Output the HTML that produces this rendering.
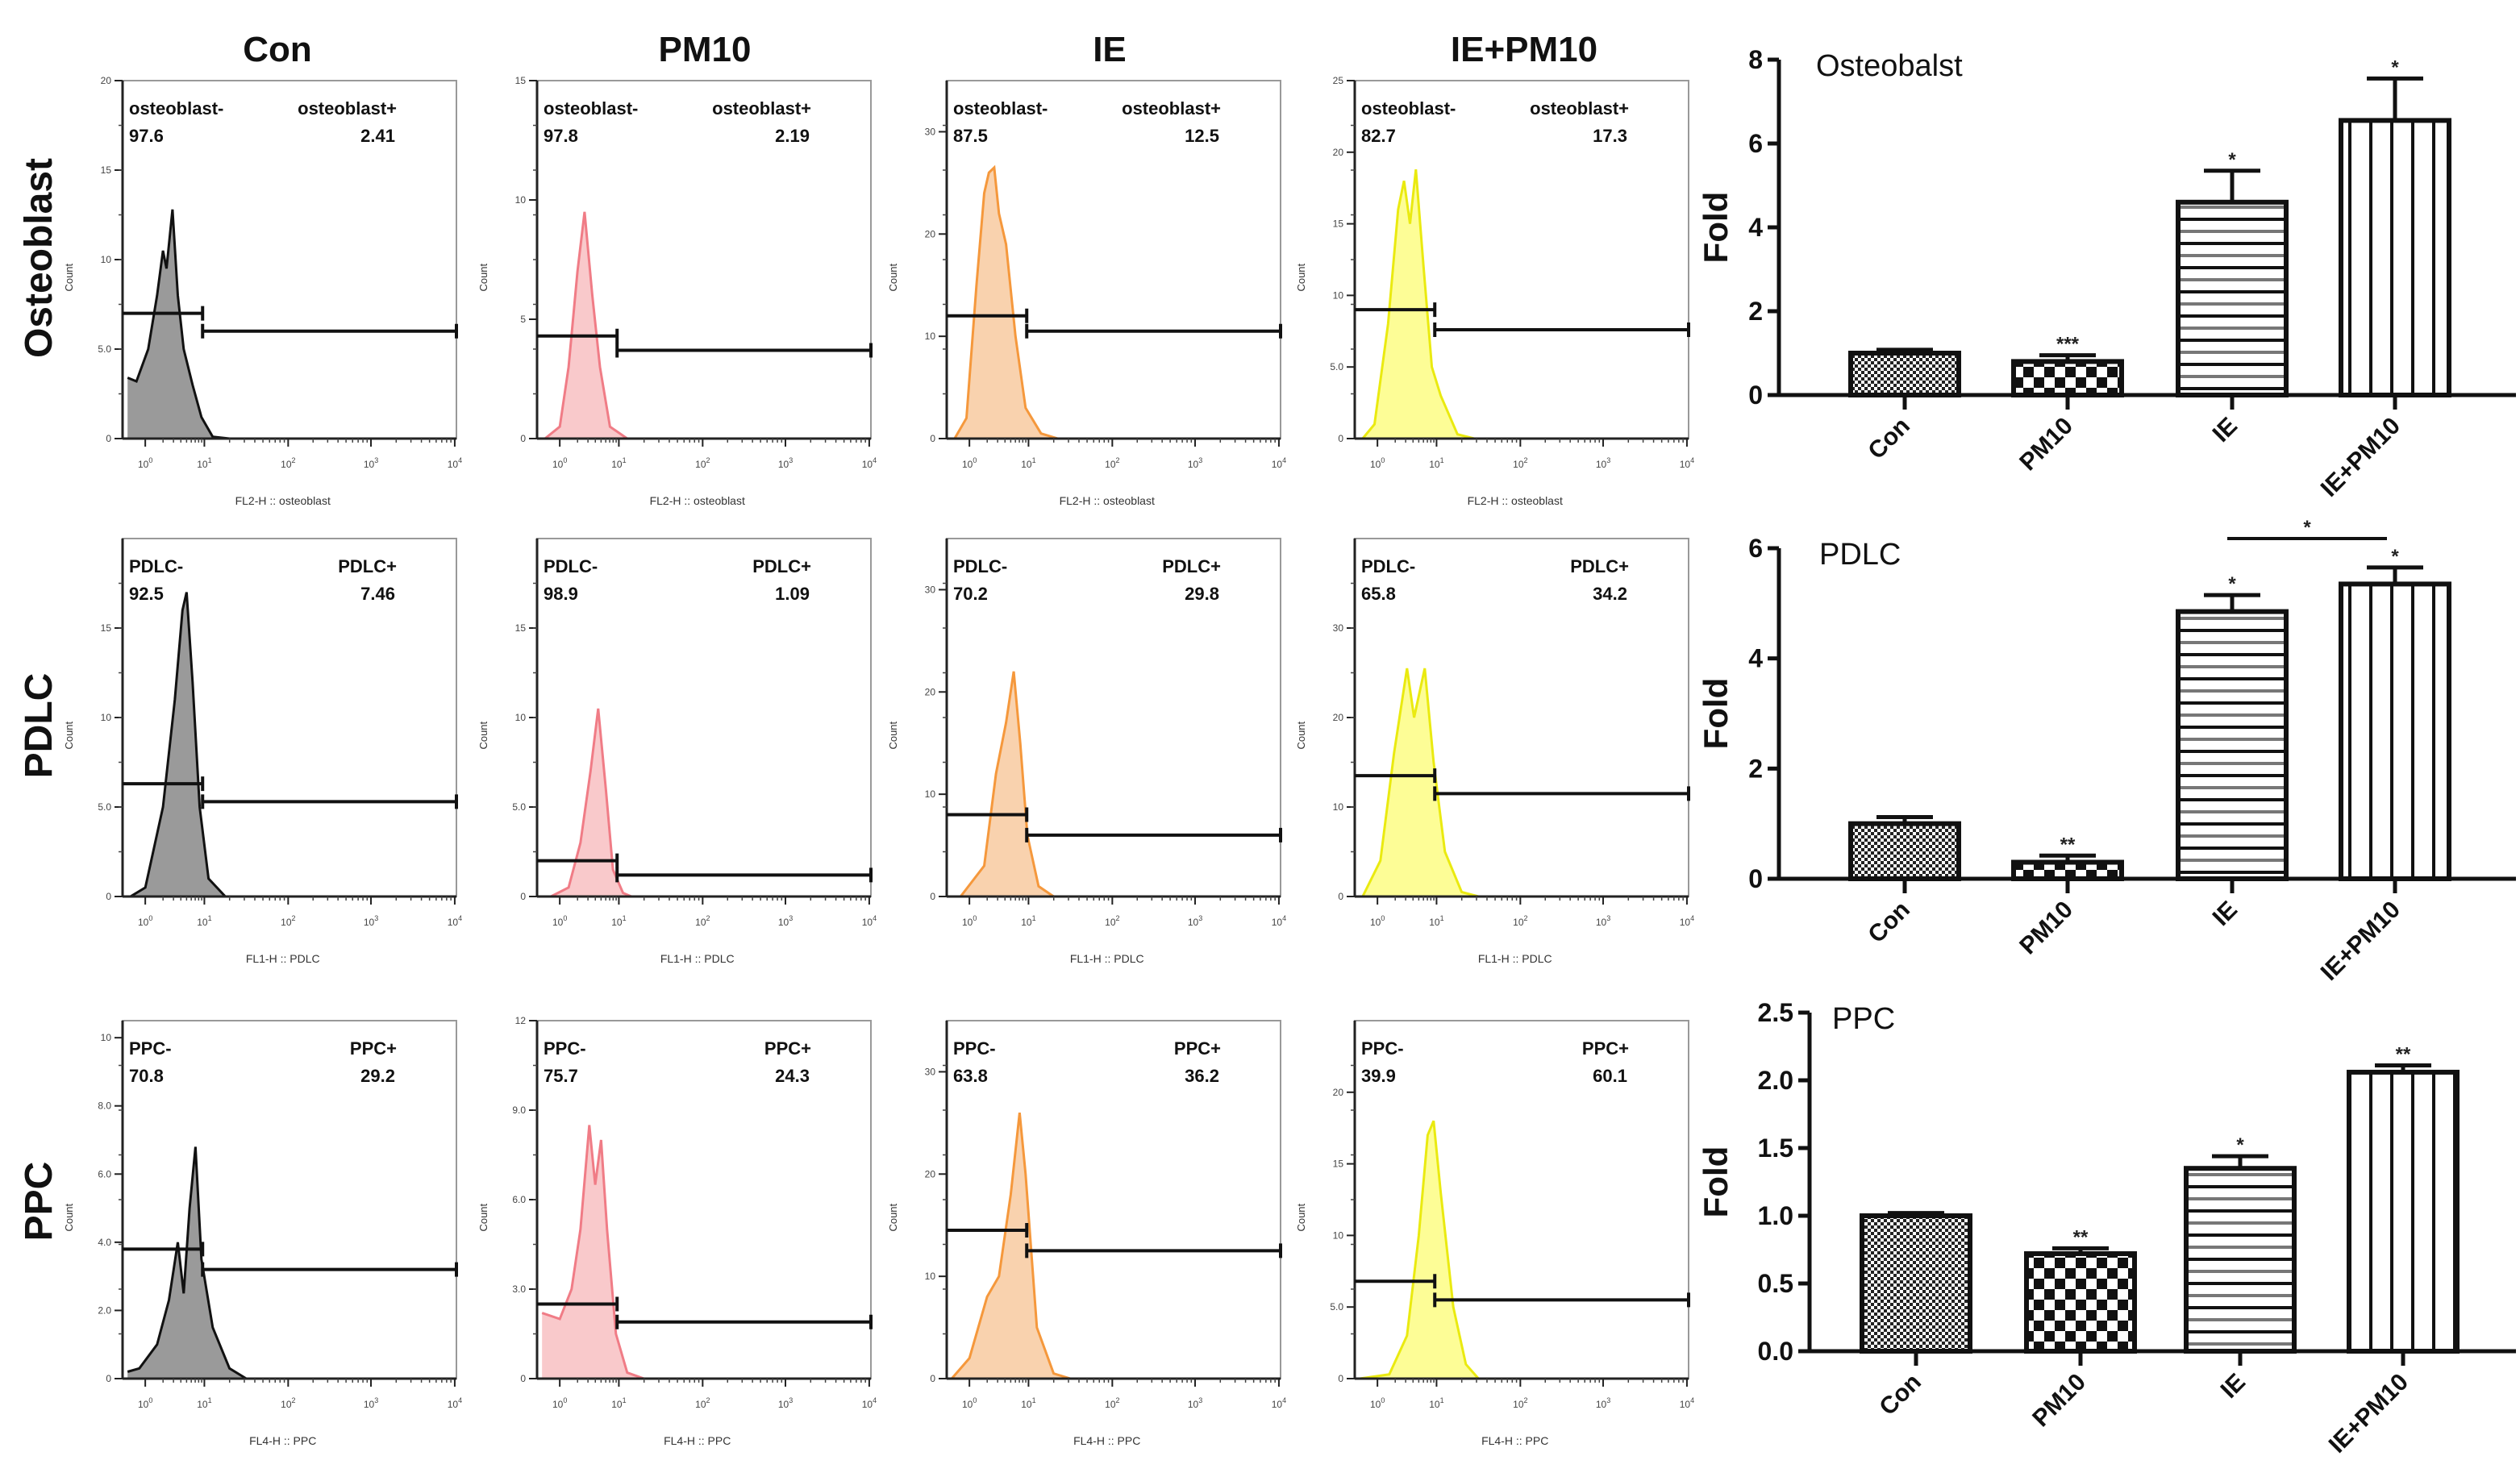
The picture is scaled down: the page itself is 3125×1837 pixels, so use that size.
<!DOCTYPE html>
<html><head><meta charset="utf-8"><style>
html,body{margin:0;padding:0;background:#fff;}
svg{display:block;font-family:"Liberation Sans",Arial,sans-serif;}
</style></head><body>
<svg id="fig" xmlns="http://www.w3.org/2000/svg" width="3125" height="1837" viewBox="0 0 3125 1837">
<defs>
<pattern id="pCon" width="8" height="8" patternUnits="userSpaceOnUse"><rect width="8" height="8" fill="#fff"/><rect width="4" height="4" fill="#222"/><rect x="4" y="4" width="4" height="4" fill="#222"/></pattern>
<pattern id="pPM" width="26" height="26" patternUnits="userSpaceOnUse"><rect width="26" height="26" fill="#fff"/><rect width="13" height="13" fill="#111"/><rect x="13" y="13" width="13" height="13" fill="#111"/></pattern>
<pattern id="pIE" width="20" height="30" patternUnits="userSpaceOnUse"><rect width="20" height="30" fill="#fff"/><rect y="0" width="20" height="4" fill="#111"/><rect y="15" width="20" height="4" fill="#777"/></pattern>
<pattern id="pIEPM" width="26" height="20" patternUnits="userSpaceOnUse"><rect width="26" height="20" fill="#fff"/><rect x="0" width="4" height="20" fill="#111"/></pattern>
</defs>
</svg>
<script>
// ---------- Histogram data ----------
const colTitles = ["Con","PM10","IE","IE+PM10"];
const rowTitles = ["Osteoblast","PDLC","PPC"];
const markerNames = ["osteoblast","PDLC","PPC"];
const channelNames = ["FL2-H :: osteoblast","FL1-H :: PDLC","FL4-H :: PPC"];
const histYMax = [[20,15,35,25],[20,20,35,40],[10.5,12,35,25]];
const histYTicks = [
 [[0,5,10,15,20],[0,5,10,15],[0,10,20,30],[0,5,10,15,20,25]],
 [[0,5,10,15],[0,5,10,15],[0,10,20,30],[0,10,20,30]],
 [[0,2,4,6,8,10],[0,3,6,9,12],[0,10,20,30],[0,5,10,15,20]]
];
const negPct = [["97.6","97.8","87.5","82.7"],["92.5","98.9","70.2","65.8"],["70.8","75.7","63.8","39.9"]];
const posPct = [["2.41","2.19","12.5","17.3"],["7.46","1.09","29.8","34.2"],["29.2","24.3","36.2","60.1"]];
const gateNeg = [[7,4.3,12,9],[6.3,2,8,13.5],[3.8,2.5,14.5,6.8]];
const gatePos = [[6,3.7,10.5,7.6],[5.3,1.2,6,11.5],[3.2,1.9,12.5,5.5]];
const histCurves = [
 [
  [[-0.3,3.4],[-0.15,3.2],[0.05,5],[0.2,8],[0.3,10.5],[0.36,9.5],[0.46,12.8],[0.55,8],[0.65,5],[0.8,3],[0.95,1.2],[1.1,0.1],[1.3,0]],
  [[-0.25,0],[0.0,0.5],[0.15,3],[0.3,7],[0.42,9.5],[0.55,6],[0.68,3],[0.85,0.5],[1.1,0]],
  [[-0.25,0],[-0.05,2],[0.12,15],[0.25,24],[0.33,26],[0.42,26.5],[0.5,22],[0.62,19],[0.78,10],[0.95,3],[1.15,0.5],[1.35,0]],
  [[-0.25,0],[-0.05,1],[0.18,8],[0.35,16],[0.45,18],[0.55,15],[0.65,18.8],[0.78,12],[0.92,5],[1.05,3],[1.25,0.3],[1.45,0]]
 ],
 [
  [[-0.25,0],[0,0.5],[0.3,5],[0.5,11],[0.63,16],[0.7,17],[0.8,12],[0.92,5],[1.05,1],[1.25,0]],
  [[-0.15,0],[0.15,0.5],[0.35,3],[0.52,7],[0.65,10.5],[0.78,6],[0.9,1.5],[1.05,0.2],[1.15,0]],
  [[-0.15,0],[0.25,3],[0.45,12],[0.62,17],[0.75,22],[0.86,15],[0.98,6],[1.12,1],[1.3,0]],
  [[-0.25,0],[0.05,4],[0.28,16],[0.5,25.5],[0.62,20],[0.8,25.5],[0.95,15],[1.1,5],[1.3,0.5],[1.5,0]]
 ],
 [
  [[-0.3,0.2],[-0.1,0.3],[0.2,1],[0.4,2.3],[0.55,4],[0.65,2.5],[0.75,5],[0.85,6.8],[0.95,3.5],[1.1,1.5],[1.3,0.3],[1.5,0]],
  [[-0.3,2.2],[0,2],[0.2,3],[0.35,5],[0.5,8.5],[0.6,6.5],[0.7,8],[0.8,5],[0.95,1.5],[1.1,0.2],[1.3,0]],
  [[-0.3,0],[0,2],[0.3,8],[0.5,10],[0.7,18],[0.85,26],[0.95,20],[1.1,5],[1.3,0.5],[1.5,0]],
  [[-0.3,0],[0.2,0.3],[0.5,3],[0.7,10],[0.85,17],[0.95,18],[1.05,13],[1.2,5],[1.35,1],[1.5,0]]
 ]
];
// ---------- Bar chart data ----------
const barCategories = ["Con","PM10","IE","IE+PM10"];
const barTitles = ["Osteobalst","PDLC","PPC"];
const osteoValues = [1.0,0.8,4.6,6.55];
const osteoErrors = [0.08,0.15,0.75,1.0];
const osteoStars = ["","***","*","*"];
const pdlcValues = [1.0,0.3,4.85,5.35];
const pdlcErrors = [0.12,0.12,0.3,0.3];
const pdlcStars = ["","**","*","*"];
const ppcValues = [1.0,0.72,1.35,2.06];
const ppcErrors = [0.02,0.04,0.09,0.05];
const ppcStars = ["","**","*","**"];
const barYMax = [8,6,2.5];
const barYTicks = [[0,2,4,6,8],[0,2,4,6],[0,0.5,1.0,1.5,2.0,2.5]];
const barTickLabels = [["0","2","4","6","8"],["0","2","4","6"],["0.0","0.5","1.0","1.5","2.0","2.5"]];

const NS="http://www.w3.org/2000/svg";
const svg=document.getElementById('fig');
function mk(tag,attrs,parent,text){const e=document.createElementNS(NS,tag);for(const k in attrs)e.setAttribute(k,attrs[k]);if(text!==undefined)e.textContent=text;(parent||svg).appendChild(e);return e;}

const colL=[152,666,1174,1680], rowT=[100,668,1266], PW=414, PH=444;
const colCx=[344,874,1376,1890];
const fills=["#9a9a9a","#f9c9cb","#f9d2ae","#fdfd96"];
const strokes=["#111","#f07c86","#f5983c","#eaea10"];
const decFrac=[0.068,0.245,0.496,0.744,0.995];
function xLog(l){ if(l<=0){return Math.max(0,decFrac[0]+l*0.177);} const i=Math.min(3,Math.floor(l)); return decFrac[i]+(l-i)*(decFrac[i+1]-decFrac[i]); }

colTitles.forEach((t,c)=>{
 const e=mk('text',{x:colCx[c],y:76,'text-anchor':'middle','font-size':44,'font-weight':'bold',fill:'#111'},svg,t);
 
 
});
const rowCy=[320,900,1490];
rowTitles.forEach((t,r)=>{
 const e=mk('text',{x:0,y:0,transform:`translate(64,${rowCy[r]}) rotate(-90)`,'text-anchor':'middle','font-size':48,'font-weight':'bold',fill:'#111'},svg,t);
 
 
});

for(let r=0;r<3;r++)for(let c=0;c<4;c++){
 const L=colL[c],T=rowT[r],B=T+PH,R=L+PW,ym=histYMax[r][c];
 const g=mk('g',{});
 
 
 const X=l=>L+xLog(l)*PW, Y=v=>B-v/ym*PH;
 const pts=histCurves[r][c].map(p=>[X(p[0]),Y(p[1])]);
 let d=`M${pts[0][0]},${B} `+pts.map(p=>`L${p[0].toFixed(1)},${p[1].toFixed(1)}`).join(' ')+` L${pts[pts.length-1][0]},${B} Z`;
 const area=mk('path',{d,fill:fills[c],stroke:'none'},g);
 
 
 const line=mk('path',{d:pts.map((p,i)=>(i?'L':'M')+p[0].toFixed(1)+','+p[1].toFixed(1)).join(' '),fill:'none',stroke:strokes[c],'stroke-width':3},g);
 
 
 const box=mk('rect',{x:L,y:T,width:PW,height:PH,fill:'none',stroke:'#999','stroke-width':2},g);
 
 
 mk('line',{x1:L,y1:T,x2:L,y2:B,stroke:'#222','stroke-width':3},g);
 mk('line',{x1:L,y1:B,x2:R,y2:B,stroke:'#222','stroke-width':3},g);
 histYTicks[r][c].forEach(v=>{
  mk('line',{x1:L-10,y1:Y(v),x2:L,y2:Y(v),stroke:'#222','stroke-width':2},g);
  const lb=(ym<=12 && v!==0 && v<10)||(ym===20&&v===5)||(ym===25&&v===5)?v.toFixed(1):String(v);
  const tl=mk('text',{x:L-14,y:Y(v)+4,'text-anchor':'end','font-size':12,fill:'#444'},g,lb);
  
  
 });
 for(let k=1;k<8;k++){const yy=T+PH*k/8;mk('line',{x1:L-5,y1:yy,x2:L,y2:yy,stroke:'#444','stroke-width':1.5},g);}
 for(let dcd=0;dcd<=4;dcd++){
  mk('line',{x1:X(dcd),y1:B,x2:X(dcd),y2:B+10,stroke:'#222','stroke-width':2},g);
  const xl=mk('text',{x:X(dcd),y:B+36,'text-anchor':'middle','font-size':12,fill:'#444'},g);
  
  
  mk('tspan',{},xl,'10');mk('tspan',{dy:-6,'font-size':9},xl,String(dcd));
  if(dcd<4)for(let m=2;m<10;m++){const xx=X(dcd+Math.log10(m));mk('line',{x1:xx,y1:B,x2:xx,y2:B+5,stroke:'#444','stroke-width':1.5},g);}
 }
 const ct=mk('text',{x:0,y:0,transform:`translate(${L-62},${T+PH*0.55}) rotate(-90)`,'text-anchor':'middle','font-size':13,fill:'#333'},g,'Count');
 
 
 const xt=mk('text',{x:L+PW*0.48,y:B+82,'text-anchor':'middle','font-size':14,fill:'#333'},g,channelNames[r]);
 
 
 const gx=X(0.97);
 const gn=mk('path',{d:`M${L},${Y(gateNeg[r][c])} H${gx} M${gx},${Y(gateNeg[r][c])-9} V${Y(gateNeg[r][c])+9}`,stroke:'#111','stroke-width':4,fill:'none'},g);
 
 
 const gp=mk('path',{d:`M${gx},${Y(gatePos[r][c])} H${R} M${gx},${Y(gatePos[r][c])-9} V${Y(gatePos[r][c])+9} M${R},${Y(gatePos[r][c])-9} V${Y(gatePos[r][c])+9}`,stroke:'#111','stroke-width':4,fill:'none'},g);
 
 
 const m=markerNames[r];
 const a=mk('text',{x:L+8,y:T+42,'font-size':22,'font-weight':'bold',fill:'#111'},g,m+'-');
 
 
 const b=mk('text',{x:L+8,y:T+76,'font-size':22,'font-weight':'bold',fill:'#111'},g,negPct[r][c]);
 
 
 const a2=mk('text',{x:L+340,y:T+42,'text-anchor':'end','font-size':22,'font-weight':'bold',fill:'#111'},g,m+'+');
 
 
 const b2=mk('text',{x:L+338,y:T+76,'text-anchor':'end','font-size':22,'font-weight':'bold',fill:'#111'},g,posPct[r][c]);
 
 
}

// ---------- Bar charts ----------
const barVals=[osteoValues,pdlcValues,ppcValues], barErrs=[osteoErrors,pdlcErrors,ppcErrors], barStars=[osteoStars,pdlcStars,ppcStars];
const barY0=[490,1090,1676], barYTop=[74,680,1256];
const axXs=[2206,2206,2244], axEnd=3120;
const barCxs=[[2362,2564,2768,2970],[2362,2564,2768,2970],[2376,2580,2778,2980]];
const barW=134;
const pats=["url(#pCon)","url(#pPM)","url(#pIE)","url(#pIEPM)"];
for(let k=0;k<3;k++){
 const g=mk('g',{});
 
 
 const axX=axXs[k], barCx=barCxs[k];
 const Y=v=>barY0[k]-v/barYMax[k]*(barY0[k]-barYTop[k]);
 barVals[k].forEach((v,i)=>{
  const e=barErrs[k][i], cx=barCx[i];
  const eb=mk('path',{d:`M${cx},${Y(v)} V${Y(v+e)} M${cx-35},${Y(v+e)} H${cx+35}`,stroke:'#111','stroke-width':5,fill:'none'},g);
  
  
  const rc=mk('rect',{x:cx-barW/2,y:Y(v),width:barW,height:barY0[k]-Y(v),fill:pats[i],stroke:'#111','stroke-width':6},g);
  
  
  if(barStars[k][i]){
   const st=mk('text',{x:cx,y:Y(v+e)-6,'text-anchor':'middle','font-size':24,'font-weight':'bold',fill:'#222'},g,barStars[k][i]);
   
   
  }
 });
 mk('line',{x1:axX,y1:barYTop[k],x2:axX,y2:barY0[k],stroke:'#111','stroke-width':5},g);
 mk('line',{x1:axX-2,y1:barY0[k],x2:axEnd,y2:barY0[k],stroke:'#111','stroke-width':5},g);
 barYTicks[k].forEach((v,j)=>{
  mk('line',{x1:axX-14,y1:Y(v),x2:axX,y2:Y(v),stroke:'#111','stroke-width':5},g);
  const t=mk('text',{x:axX-20,y:Y(v)+11,'text-anchor':'end','font-size':32,'font-weight':'bold',fill:'#111'},g,barTickLabels[k][j]);
  
  
 });
 barCategories.forEach((c,i)=>{
  mk('line',{x1:barCx[i],y1:barY0[k],x2:barCx[i],y2:barY0[k]+18,stroke:'#111','stroke-width':5},g);
  const t=mk('text',{x:0,y:0,transform:`translate(${barCx[i]+8},${barY0[k]+40}) rotate(-45)`,'text-anchor':'end','font-size':30,'font-weight':'bold',fill:'#111'},g,c);
  
  
 });
 const ft=mk('text',{x:0,y:0,transform:`translate(2142,${(barY0[k]+barYTop[k])/2}) rotate(-90)`,'text-anchor':'middle','font-size':42,'font-weight':'bold',fill:'#111'},g,'Fold');
 
 
 const tt=mk('text',{x:[2252,2256,2272][k],y:barYTop[k]+20,'font-size':38,fill:'#111'},g,barTitles[k]);
 
 
}
const br=mk('line',{x1:2762,y1:668,x2:2960,y2:668,stroke:'#111','stroke-width':4});


const bs=mk('text',{x:2861,y:662,'text-anchor':'middle','font-size':24,'font-weight':'bold',fill:'#222'},svg,'*');


</script>
</body></html>
